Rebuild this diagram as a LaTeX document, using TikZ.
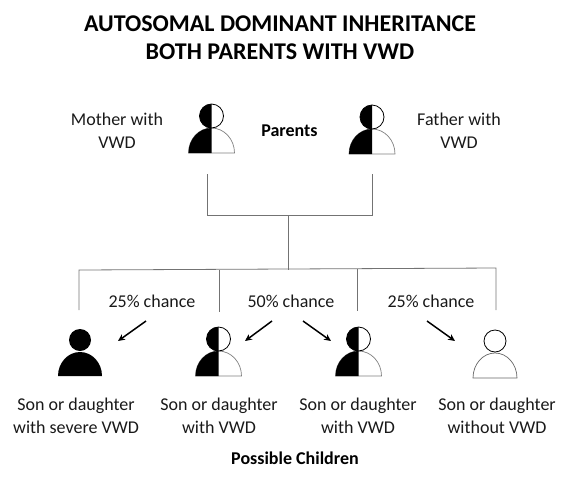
\documentclass[tikz,border=0pt]{standalone}
\usepackage{fontspec}
\setmainfont{Carlito}
\usetikzlibrary{arrows.meta, positioning}

\begin{document}
\begin{tikzpicture}[
  x=1pt, y=-1pt,
  title/.style={font=\fontsize{24}{28}\selectfont\bfseries, align=center, text=black},
  label/.style={font=\fontsize{18}{22.5}\selectfont, align=center, text=black!90, inner sep=0pt},
  heading/.style={font=\fontsize{18}{20}\selectfont\bfseries, align=center, inner sep=0pt},
  tree/.style={draw=black!55, line width=0.8pt},
  arr/.style={-{Stealth[length=7pt,width=6.5pt]}, line width=1.5pt, black},
  pics/halfperson/.style={code={
    \filldraw[fill=white, draw=black!50, line width=0.7pt] (-23,0) arc[start angle=180, end angle=360, x radius=23, y radius=25] -- cycle;
    \fill[black] (0,0) -- (-23,0) arc[start angle=180, end angle=270, x radius=23, y radius=25] -- cycle;
    \fill[white] (0,-37) circle[radius=12];
    \draw[black, line width=0.8pt] (0,-37) circle[radius=12];
    \fill[black] (0,-25) arc[start angle=90, end angle=270, radius=12] -- cycle;
  }},
  pics/fullperson/.style={code={
    \fill[black] (-22,0) arc[start angle=180, end angle=360, x radius=22, y radius=24] -- cycle;
    \fill[black] (0,-36) circle[radius=11];
  }},
  pics/openperson/.style={code={
    \draw[black!60, line width=0.7pt, fill=white] (-22,0) arc[start angle=180, end angle=360, x radius=22, y radius=25] -- cycle;
    \draw[black, line width=0.8pt, fill=white] (0,-37) circle[radius=11];
  }}
]
  \useasboundingbox (0,0) rectangle (570,480);

  \node[title] (titletext) at (280,38) {AUTOSOMAL DOMINANT INHERITANCE\\BOTH PARENTS WITH VWD};

  % parents
  \pic at (211.5,153) {halfperson};
  \pic at (372,154) {halfperson};
  \node[label] (mother) at (117,130.5) {Mother with\\VWD};
  \node[heading] (parents) at (289.5,131) {Parents};
  \node[label] (father) at (459,130.5) {Father with\\VWD};

  % children
  \pic at (80,376) {fullperson};
  \pic at (218.5,376) {halfperson};
  \pic at (358.5,376) {halfperson};
  \pic at (495,378) {openperson};

  \node[label] (chance a) at (152,301) {25\% chance};
  \node[label] (chance b) at (291,301) {50\% chance};
  \node[label] (chance c) at (431,301) {25\% chance};

  \node[label] (child a) at (76,416) {Son or daughter\\with severe VWD};
  \node[label] (child b) at (219,416) {Son or daughter\\with VWD};
  \node[label] (child c) at (358,416) {Son or daughter\\with VWD};
  \node[label] (child d) at (497,416) {Son or daughter\\without VWD};
  \node[heading] (possible) at (295,458) {Possible Children};

  % tree lines
  \coordinate (mother drop) at (207,174);
  \coordinate (father drop) at (372,174);
  \coordinate (join left) at (207,215);
  \coordinate (join right) at (372,215);
  \coordinate (join mid) at (288,215);
  \coordinate (bar mid) at (288,269.5);
  \coordinate (bar a) at (79,270);
  \coordinate (bar b) at (219,270);
  \coordinate (bar c) at (357,269);
  \coordinate (bar d) at (496,268);
  \coordinate (end a) at (79,310);
  \coordinate (end b) at (219,312);
  \coordinate (end c) at (357,311);
  \coordinate (end d) at (496,310);

  \draw[tree] (mother drop) -- (join left) -- (join right) -- (father drop);
  \draw[tree] (join mid) -- (bar mid);
  \draw[tree] (end a) -- (bar a) -- (bar d) -- (end d);
  \draw[tree] (bar b) -- (end b);
  \draw[tree] (bar c) -- (end c);

  % arrows
  \coordinate (arr a) at (146,321);
  \coordinate (tip a) at (118,341);
  \coordinate (arr b) at (272,321);
  \coordinate (tip b) at (245,341);
  \coordinate (arr c) at (303,321);
  \coordinate (tip c) at (331,341);
  \coordinate (arr d) at (427,321);
  \coordinate (tip d) at (455,341);

  \draw[arr] (arr a) -- (tip a);
  \draw[arr] (arr b) -- (tip b);
  \draw[arr] (arr c) -- (tip c);
  \draw[arr] (arr d) -- (tip d);
\end{tikzpicture}
\end{document}
